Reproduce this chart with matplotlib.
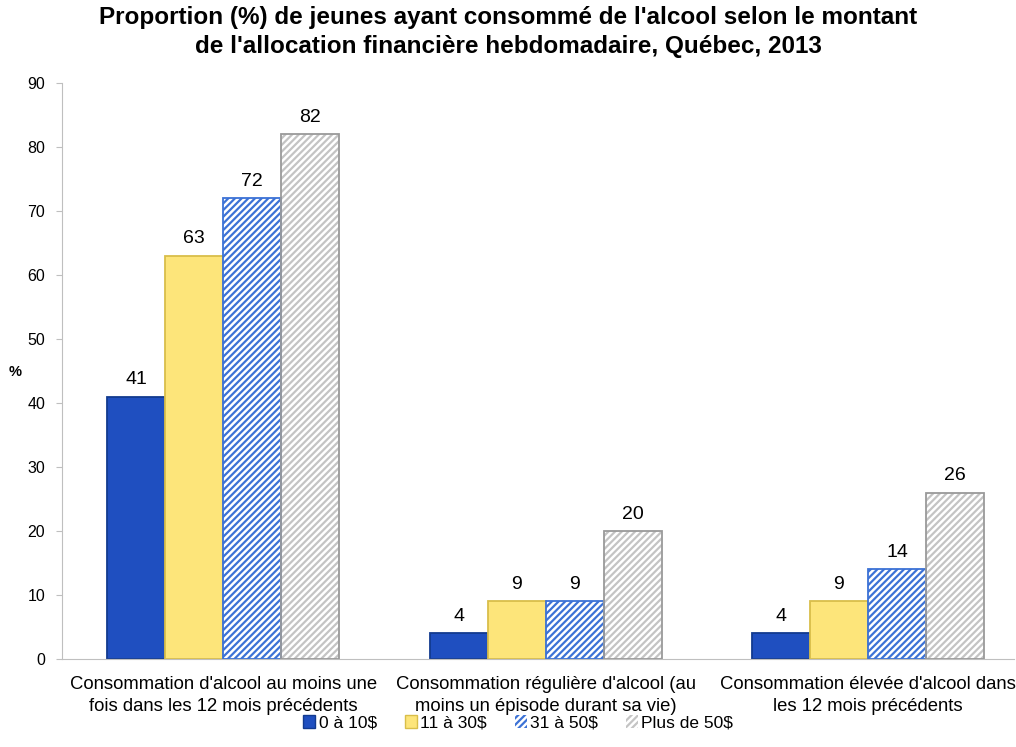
import numpy as np
import matplotlib
matplotlib.use("Agg")
import matplotlib.pyplot as plt
from matplotlib.patches import Patch

plt.rcParams["font.family"] = ["Liberation Sans", "DejaVu Sans"]
plt.rcParams["hatch.linewidth"] = 1.6

# Data
categories = [
    "Consommation d'alcool au moins une\nfois dans les 12 mois précédents",
    "Consommation régulière d'alcool (au\nmoins un épisode durant sa vie)",
    "Consommation élevée d'alcool dans\nles 12 mois précédents",
]
series_names = ["0 à 10$", "11 à 30$", "31 à 50$", "Plus de 50$"]
val_0_10 = [41, 4, 4]
val_11_30 = [63, 9, 9]
val_31_50 = [72, 9, 14]
val_plus_50 = [82, 20, 26]
yticks = [0, 10, 20, 30, 40, 50, 60, 70, 80, 90]

title = ("Proportion (%) de jeunes ayant consommé de l'alcool selon le montant\n"
         "de l'allocation financière hebdomadaire, Québec, 2013")

# styles: face, hatch colour, hatch, edge
styles = [
    dict(face="#1F4FC0", hcol=None, hatch=None, edge="#123A8F"),
    dict(face="#FDE57A", hcol=None, hatch=None, edge="#D9BE4A"),
    dict(face="white", hcol="#3C72D6", hatch="/////", edge="#3C72D6"),
    dict(face="white", hcol="#C4C4C4", hatch="/////", edge="#9A9A9A"),
]

fig = plt.figure(figsize=(10.16, 7.47), dpi=100)
ax = fig.add_axes([62 / 1016, 88 / 747, (1014 - 62) / 1016, (659 - 83) / 747])

x = np.arange(len(categories))
width = 0.18
all_vals = [val_0_10, val_11_30, val_31_50, val_plus_50]

for i, (vals, st) in enumerate(zip(all_vals, styles)):
    pos = x + (i - 1.5) * width
    if st["hatch"]:
        ax.bar(pos, vals, width, color=st["face"], edgecolor=st["hcol"],
               hatch=st["hatch"], linewidth=0, zorder=2)
        ax.bar(pos, vals, width, fill=False, edgecolor=st["edge"],
               linewidth=1.3, zorder=3)
    else:
        ax.bar(pos, vals, width, color=st["face"], edgecolor=st["edge"],
               linewidth=1.3, zorder=2)
    for p, v in zip(pos, vals):
        ax.annotate(str(v), (p, v), xytext=(0, 6), textcoords="offset points",
                    ha="center", va="bottom", fontsize=14)

ax.set_xlim(-0.5, 2.453)
ax.set_ylim(0, 90)
ax.set_yticks(yticks)
ax.set_xticks(x)
ax.set_xticklabels(categories, fontsize=13.3, linespacing=1.4)
ax.tick_params(axis="x", length=0, pad=12)
ax.tick_params(axis="y", labelsize=11.5, length=4, color="#BFBFBF", pad=8)
for s in ["top", "right"]:
    ax.spines[s].set_visible(False)
ax.spines["left"].set_color("#BFBFBF")
ax.spines["bottom"].set_color("#BFBFBF")

fig.text(15 / 1016, 1 - 372 / 747, "%", fontsize=10.5, fontweight="bold",
         ha="center", va="center")

fig.text(0.5, 1 - 32 / 747, title, fontsize=17.5, fontweight="bold",
         ha="center", va="center", linespacing=1.3)

handles = []
for name, st in zip(series_names, styles):
    if st["hatch"]:
        handles.append(Patch(facecolor=st["face"], edgecolor=st["hcol"],
                             hatch=st["hatch"], linewidth=0, label=name))
    else:
        handles.append(Patch(facecolor=st["face"], edgecolor=st["edge"],
                             linewidth=1, label=name))
fig.legend(handles=handles, loc="center", bbox_to_anchor=(0.51, 1 - 723 / 747),
           ncol=4, frameon=False, fontsize=12.5, handlelength=0.7,
           handleheight=0.7, handletextpad=0.2, columnspacing=1.6)

fig.savefig("out.png", dpi=100)
